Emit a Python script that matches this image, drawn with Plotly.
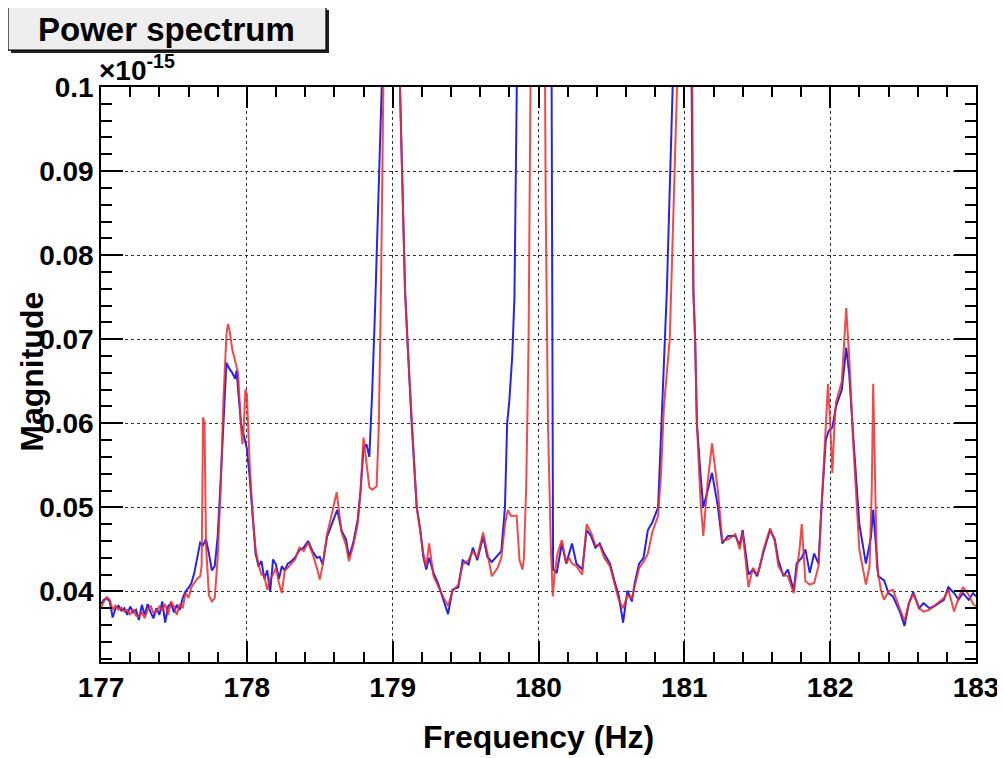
import plotly.graph_objects as go

# ---------------- data (magnitude in units of 1e-15) ----------------
freq_blue = [
    177.00, 177.02, 177.04, 177.06, 177.08, 177.10, 177.12, 177.14, 177.16, 177.18,
    177.20, 177.22, 177.24, 177.26, 177.28, 177.30, 177.32, 177.34, 177.36, 177.38,
    177.40, 177.42, 177.44, 177.46, 177.48, 177.50, 177.52, 177.54, 177.56, 177.58,
    177.60, 177.62, 177.64, 177.66, 177.68, 177.70, 177.72, 177.74, 177.76, 177.78,
    177.80, 177.82, 177.84, 177.86, 177.88, 177.90, 177.92, 177.93, 177.94, 177.96,
    177.98, 178.00, 178.02, 178.04, 178.06, 178.08, 178.10, 178.12, 178.14, 178.16,
    178.18, 178.20, 178.22, 178.24, 178.26, 178.28, 178.30, 178.33, 178.36, 178.39,
    178.42, 178.45, 178.48, 178.50, 178.52, 178.55, 178.58, 178.62, 178.65, 178.68,
    178.70, 178.73, 178.76, 178.78, 178.80, 178.82, 178.84, 178.86, 178.88, 178.90,
    178.925, 178.99, 179.05, 179.085, 179.10, 179.13, 179.165, 179.19, 179.21, 179.23,
    179.25, 179.28, 179.31, 179.35, 179.38, 179.41, 179.45, 179.48, 179.52, 179.55,
    179.58, 179.62, 179.65, 179.68, 179.72, 179.745, 179.77, 179.785, 179.80, 179.82,
    179.835, 179.86, 179.98, 180.09, 180.10, 180.125, 180.16, 180.19, 180.23, 180.26,
    180.30, 180.33, 180.36, 180.39, 180.42, 180.45, 180.49, 180.52, 180.55, 180.58,
    180.61, 180.64, 180.66, 180.69, 180.72, 180.75, 180.78, 180.82, 180.84, 180.86,
    180.88, 180.92, 180.99, 181.05, 181.062, 181.074, 181.086, 181.11, 181.13, 181.16,
    181.19, 181.23, 181.26, 181.30, 181.35, 181.38, 181.40, 181.44, 181.47, 181.50,
    181.52, 181.54, 181.588, 181.62, 181.645, 181.68, 181.71, 181.75, 181.77, 181.805,
    181.83, 181.86, 181.89, 181.92, 181.94, 181.97, 181.99, 182.015, 182.04, 182.08,
    182.11, 182.13, 182.16, 182.20, 182.245, 182.28, 182.295, 182.31, 182.33, 182.37,
    182.40, 182.43, 182.48, 182.51, 182.54, 182.57, 182.61, 182.64, 182.68, 182.71,
    182.75, 182.78, 182.81, 182.85, 182.88, 182.91, 182.95, 182.98, 183.00,
]
mag_blue = [
    0.0385, 0.0390, 0.0392, 0.0388, 0.0369, 0.0380, 0.0383, 0.0377, 0.0380, 0.0372,
    0.0382, 0.0375, 0.0378, 0.0366, 0.0384, 0.0372, 0.0385, 0.0375, 0.0368, 0.0380,
    0.0372, 0.0388, 0.0363, 0.0382, 0.0386, 0.0375, 0.0384, 0.0378, 0.0392, 0.0400,
    0.0404, 0.0410, 0.0422, 0.0442, 0.0458, 0.0455, 0.0462, 0.0445, 0.0425, 0.0430,
    0.0465, 0.0530, 0.0610, 0.0672, 0.0665, 0.0660, 0.0653, 0.0663, 0.0640, 0.0600,
    0.0585, 0.0570, 0.0535, 0.0490, 0.0445, 0.0430, 0.0436, 0.0415, 0.0425, 0.0400,
    0.0438, 0.0432, 0.0415, 0.0430, 0.0425, 0.0433, 0.0435, 0.0440, 0.0449, 0.0452,
    0.0460, 0.0448, 0.0440, 0.0441, 0.0432, 0.0465, 0.0478, 0.0497, 0.0472, 0.0462,
    0.0441, 0.0458, 0.0485, 0.0520, 0.0570, 0.0575, 0.0560, 0.0639, 0.0740, 0.0860,
    0.1000, 0.3000, 0.1000, 0.0757, 0.0700, 0.0600, 0.0500, 0.0473, 0.0441, 0.0426,
    0.0440, 0.0422, 0.0410, 0.0390, 0.0373, 0.0402, 0.0405, 0.0437, 0.0432, 0.0452,
    0.0437, 0.0465, 0.0441, 0.0435, 0.0443, 0.0448, 0.0500, 0.0600, 0.0627, 0.0680,
    0.0750, 0.1000, 0.3000, 0.1000, 0.0426, 0.0422, 0.0457, 0.0433, 0.0457, 0.0433,
    0.0426, 0.0473, 0.0466, 0.0452, 0.0457, 0.0445, 0.0433, 0.0413, 0.0395, 0.0363,
    0.0401, 0.0388, 0.0410, 0.0433, 0.0440, 0.0473, 0.0482, 0.0500, 0.0580, 0.0678,
    0.0757, 0.1000, 0.3000, 0.1000, 0.0757, 0.0700, 0.0600, 0.0541, 0.0500, 0.0520,
    0.0541, 0.0501, 0.0457, 0.0466, 0.0466, 0.0455, 0.0473, 0.0420, 0.0426, 0.0418,
    0.0433, 0.0445, 0.0473, 0.0462, 0.0437, 0.0418, 0.0426, 0.0401, 0.0433, 0.0440,
    0.0450, 0.0422, 0.0445, 0.0433, 0.0500, 0.0580, 0.0591, 0.0595, 0.0620, 0.0640,
    0.0690, 0.0660, 0.0580, 0.0480, 0.0433, 0.0465, 0.0497, 0.0465, 0.0418, 0.0413,
    0.0398, 0.0394, 0.0375, 0.0359, 0.0386, 0.0399, 0.0380, 0.0386, 0.0380, 0.0382,
    0.0386, 0.0390, 0.0405, 0.0398, 0.0390, 0.0398, 0.0390, 0.0398, 0.0394,
]

freq_red = [
    177.00, 177.02, 177.04, 177.06, 177.08, 177.10, 177.12, 177.14, 177.16, 177.18,
    177.20, 177.22, 177.24, 177.26, 177.28, 177.30, 177.32, 177.34, 177.36, 177.38,
    177.40, 177.42, 177.44, 177.46, 177.48, 177.50, 177.52, 177.54, 177.56, 177.58,
    177.60, 177.62, 177.64, 177.66, 177.68, 177.69, 177.70, 177.71, 177.72, 177.73,
    177.74, 177.76, 177.78, 177.80, 177.82, 177.84, 177.86, 177.87, 177.88, 177.90,
    177.92, 177.94, 177.96, 177.97, 177.98, 177.99, 178.00, 178.02, 178.04, 178.06,
    178.08, 178.10, 178.12, 178.14, 178.16, 178.18, 178.20, 178.22, 178.24, 178.26,
    178.28, 178.30, 178.33, 178.36, 178.39, 178.42, 178.45, 178.48, 178.50, 178.52,
    178.55, 178.58, 178.616, 178.65, 178.68, 178.70, 178.73, 178.76, 178.78, 178.80,
    178.82, 178.84, 178.86, 178.89, 178.905, 178.92, 178.936, 178.99, 179.05, 179.085,
    179.10, 179.13, 179.165, 179.19, 179.21, 179.23, 179.25, 179.28, 179.31, 179.35,
    179.38, 179.41, 179.45, 179.48, 179.52, 179.55, 179.58, 179.62, 179.65, 179.68,
    179.72, 179.745, 179.77, 179.79, 179.81, 179.85, 179.87, 179.89, 179.90, 179.915,
    179.925, 179.932, 179.945, 179.995, 180.045, 180.05, 180.065, 180.085, 180.098, 180.11,
    180.13, 180.16, 180.19, 180.21, 180.23, 180.26, 180.30, 180.33, 180.36, 180.39,
    180.42, 180.45, 180.49, 180.52, 180.55, 180.58, 180.61, 180.64, 180.66, 180.69,
    180.72, 180.75, 180.78, 180.82, 180.84, 180.86, 180.90, 180.95, 180.99, 181.05,
    181.062, 181.074, 181.086, 181.11, 181.13, 181.16, 181.19, 181.23, 181.26, 181.30,
    181.35, 181.38, 181.40, 181.44, 181.47, 181.50, 181.52, 181.54, 181.588, 181.62,
    181.645, 181.68, 181.71, 181.75, 181.77, 181.79, 181.805, 181.82, 181.83, 181.86,
    181.89, 181.92, 181.94, 181.97, 181.985, 182.00, 182.015, 182.03, 182.04, 182.08,
    182.11, 182.13, 182.16, 182.20, 182.245, 182.27, 182.285, 182.295, 182.305, 182.32,
    182.35, 182.37, 182.40, 182.43, 182.48, 182.51, 182.54, 182.57, 182.61, 182.64,
    182.68, 182.71, 182.75, 182.78, 182.81, 182.85, 182.88, 182.91, 182.95, 182.98,
    183.00,
]
mag_red = [
    0.0380, 0.0388, 0.0393, 0.0390, 0.0378, 0.0383, 0.0378, 0.0381, 0.0376, 0.0378,
    0.0372, 0.0379, 0.0371, 0.0370, 0.0375, 0.0368, 0.0378, 0.0383, 0.0374, 0.0376,
    0.0382, 0.0378, 0.0385, 0.0372, 0.0388, 0.0382, 0.0372, 0.0385, 0.0380, 0.0398,
    0.0392, 0.0405, 0.0410, 0.0415, 0.0418, 0.0430, 0.0607, 0.0600, 0.0455, 0.0420,
    0.0395, 0.0388, 0.0392, 0.0440, 0.0520, 0.0630, 0.0705, 0.0718, 0.0712, 0.0688,
    0.0675, 0.0660, 0.0595, 0.0575, 0.0600, 0.0640, 0.0635, 0.0550, 0.0490, 0.0450,
    0.0432, 0.0420, 0.0418, 0.0402, 0.0415, 0.0420, 0.0428, 0.0410, 0.0398, 0.0425,
    0.0428, 0.0432, 0.0438, 0.0452, 0.0448, 0.0458, 0.0445, 0.0428, 0.0414, 0.0431,
    0.0468, 0.0490, 0.0518, 0.0470, 0.0455, 0.0436, 0.0455, 0.0480, 0.0520, 0.0583,
    0.0555, 0.0524, 0.0521, 0.0525, 0.0597, 0.0760, 0.1000, 0.3000, 0.1000, 0.0757,
    0.0700, 0.0600, 0.0500, 0.0470, 0.0445, 0.0430, 0.0457, 0.0418, 0.0406, 0.0392,
    0.0383, 0.0400, 0.0408, 0.0432, 0.0437, 0.0448, 0.0440, 0.0470, 0.0445, 0.0418,
    0.0428, 0.0440, 0.0480, 0.0497, 0.0490, 0.0490, 0.0437, 0.0426, 0.0440, 0.0520,
    0.0620, 0.0700, 0.1000, 0.3000, 0.1000, 0.0850, 0.0600, 0.0450, 0.0394, 0.0420,
    0.0445, 0.0461, 0.0433, 0.0440, 0.0433, 0.0430, 0.0420, 0.0480, 0.0470, 0.0455,
    0.0455, 0.0440, 0.0430, 0.0410, 0.0390, 0.0380, 0.0395, 0.0392, 0.0408, 0.0428,
    0.0435, 0.0445, 0.0470, 0.0490, 0.0540, 0.0620, 0.0700, 0.1000, 0.3000, 0.1000,
    0.0757, 0.0700, 0.0600, 0.0510, 0.0466, 0.0530, 0.0576, 0.0520, 0.0460, 0.0462,
    0.0468, 0.0450, 0.0470, 0.0405, 0.0428, 0.0420, 0.0430, 0.0448, 0.0475, 0.0460,
    0.0430, 0.0420, 0.0418, 0.0398, 0.0425, 0.0450, 0.0480, 0.0440, 0.0412, 0.0408,
    0.0410, 0.0430, 0.0500, 0.0590, 0.0647, 0.0600, 0.0541, 0.0600, 0.0625, 0.0650,
    0.0737, 0.0680, 0.0570, 0.0450, 0.0408, 0.0430, 0.0520, 0.0647, 0.0560, 0.0430,
    0.0400, 0.0390, 0.0400, 0.0402, 0.0378, 0.0365, 0.0386, 0.0397, 0.0380, 0.0376,
    0.0378, 0.0382, 0.0388, 0.0392, 0.0402, 0.0376, 0.0392, 0.0405, 0.0396, 0.0385,
    0.0382,
]

x_ticks = [177, 178, 179, 180, 181, 182, 183]
y_ticks = [0.04, 0.05, 0.06, 0.07, 0.08, 0.09, 0.1]
y_tick_text = ["0.04", "0.05", "0.06", "0.07", "0.08", "0.09", "0.1"]

# ---------------- layout geometry (page pixels; body margin = 8) ----------------
OFF = 8
W, H = 1005 - OFF, 758 - OFF
PLOT_L, PLOT_R, PLOT_T, PLOT_B = 101, 976, 87, 662.5   # page coords of frame
L = PLOT_L - OFF
T = PLOT_T - OFF
R = W - (PLOT_R - OFF)
B = H - (PLOT_B - OFF)
PW, PH = W - L - R, H - T - B


def px(xp):
    return (xp - OFF - L) / PW


def py(yp):
    return (H - B - (yp - OFF)) / PH


FONT = "Liberation Sans, Arial, Helvetica, sans-serif"

fig = go.Figure()
fig.add_trace(go.Scatter(x=freq_blue, y=mag_blue, mode="lines",
                         line=dict(color="#2424f0", width=2), showlegend=False))
fig.add_trace(go.Scatter(x=freq_red, y=mag_red, mode="lines",
                         line=dict(color="#f02a2a", width=2), opacity=0.85,
                         showlegend=False))

axis_common = dict(
    showline=True, linecolor="black", linewidth=1.5, mirror="allticks",
    ticks="inside", tickcolor="black", tickwidth=1.5,
    showgrid=True, gridcolor="#333333", gridwidth=1, griddash="dot",
    zeroline=False, automargin=False,
    tickfont=dict(family=FONT, size=28, color="black", weight="bold"),
)

fig.update_xaxes(
    range=[177, 183], tickvals=x_ticks, ticklen=21,
    minor=dict(dtick=0.2, tick0=177, ticks="inside", ticklen=10,
               tickcolor="black", tickwidth=1.5, showgrid=False),
    **axis_common,
)
fig.update_yaxes(
    range=[0.0316, 0.1], tickvals=y_ticks, ticktext=y_tick_text, ticklen=22,
    minor=dict(dtick=0.002, tick0=0, ticks="inside", ticklen=11,
               tickcolor="black", tickwidth=1.5, showgrid=False),
    **axis_common,
)

shapes = [
    # shadow of the title box
    dict(type="rect", xref="paper", yref="paper",
         x0=px(11), x1=px(329), y0=py(53), y1=py(10),
         fillcolor="#222222", line=dict(width=0), layer="above"),
    dict(type="rect", xref="paper", yref="paper",
         x0=px(8), x1=px(326), y0=py(50), y1=py(7),
         fillcolor="#eeeeee", line=dict(color="black", width=1.2), layer="above"),
]

annotations = [
    dict(text="<b>Power spectrum</b>", xref="paper", yref="paper",
         x=px(166), y=py(29), xanchor="center", yanchor="middle", showarrow=False,
         font=dict(family=FONT, size=33, color="black")),
    dict(text="<b>×10<sup>-15</sup></b>", xref="paper", yref="paper",
         x=px(97), y=py(88), xanchor="left", yanchor="bottom", showarrow=False,
         font=dict(family=FONT, size=28, color="black")),
    dict(text="<b>Frequency (Hz)</b>", xref="paper", yref="paper",
         x=px(538), y=py(738), xanchor="center", yanchor="middle", showarrow=False,
         font=dict(family=FONT, size=32, color="black")),
    dict(text="<b>Magnitude</b>", xref="paper", yref="paper", textangle=-90,
         x=px(32), y=py(372), xanchor="center", yanchor="middle", showarrow=False,
         font=dict(family=FONT, size=32, color="black")),
]

fig.update_layout(
    width=W, height=H, autosize=False,
    margin=dict(l=L, r=R, t=T, b=B, pad=0, autoexpand=False),
    paper_bgcolor="white", plot_bgcolor="white",
    shapes=shapes, annotations=annotations,
    font=dict(family=FONT),
)

fig.write_html("out.html")
